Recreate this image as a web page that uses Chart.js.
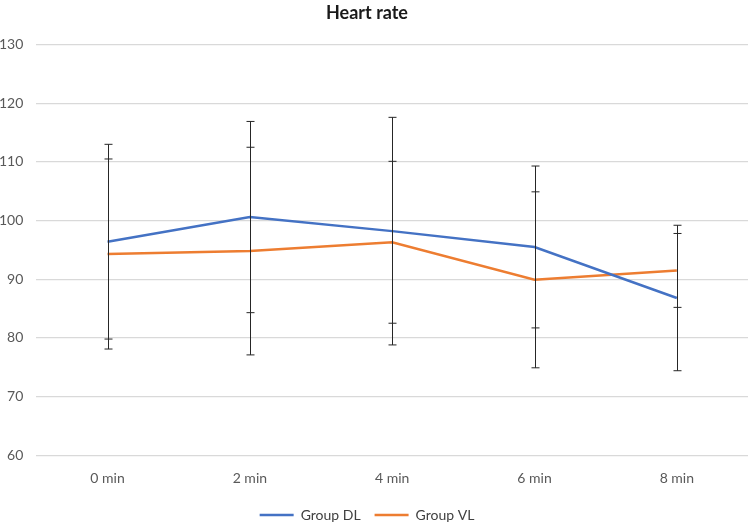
<!DOCTYPE html>
<html>
<head>
<meta charset="utf-8">
<script src="https://cdn.jsdelivr.net/npm/chart.js@4"></script>
<style>
  html, body { margin: 0; padding: 0; background: #fff; }
  #wrap { width: 748px; height: 522px; }
</style>
</head>
<body>
<div id="wrap"><canvas id="chart"></canvas></div>
<script>
const categories = ['0 min', '2 min', '4 min', '6 min', '8 min'];
const dlMean = [96.4, 100.6, 98.2, 95.5, 86.8];
const dlSD = [16.6, 16.3, 19.4, 13.8, 12.4];
const vlMean = [94.3, 94.8, 96.3, 89.9, 91.5];
const vlSD = [16.2, 17.7, 13.8, 15.0, 6.3];
const yTicks = [60, 70, 80, 90, 100, 110, 120, 130];

// draws the +/- SD whiskers for each series
const errorBars = {
  id: 'errorBars',
  afterDatasetsDraw(chart) {
    const ctx = chart.ctx;
    const y = chart.scales.y;
    ctx.save();
    ctx.strokeStyle = '#262626';
    ctx.lineWidth = 1;
    chart.data.datasets.forEach((ds, i) => {
      const meta = chart.getDatasetMeta(i);
      meta.data.forEach((pt, j) => {
        const top = y.getPixelForValue(ds.data[j] + ds.sd[j]);
        const bot = y.getPixelForValue(ds.data[j] - ds.sd[j]);
        const x = Math.round(pt.x) + 0.5;
        ctx.beginPath();
        ctx.moveTo(x, top);
        ctx.lineTo(x, bot);
        ctx.moveTo(x - 4, top);
        ctx.lineTo(x + 4, top);
        ctx.moveTo(x - 4, bot);
        ctx.lineTo(x + 4, bot);
        ctx.stroke();
      });
    });
    ctx.restore();
  }
};

new Chart(document.getElementById('chart'), {
  type: 'line',
  data: {
    labels: categories,
    datasets: [
      { label: 'Group DL', data: dlMean, sd: dlSD, borderColor: '#4472C4', backgroundColor: '#4472C4', borderWidth: 2.5, pointRadius: 0, tension: 0 },
      { label: 'Group VL', data: vlMean, sd: vlSD, borderColor: '#ED7D31', backgroundColor: '#ED7D31', borderWidth: 2.5, pointRadius: 0, tension: 0 }
    ]
  },
  options: {
    responsive: true,
    maintainAspectRatio: false,
    animation: false,
    layout: { padding: { left: -14, right: 0, top: 0, bottom: -10 } },
    plugins: {
      title: {
        display: true,
        text: 'Heart rate',
        color: '#1a1a1a',
        font: { family: 'Lato', size: 18, weight: 'bold' },
        padding: { top: 2, bottom: 21 }
      },
      legend: {
        position: 'bottom',
        labels: {
          usePointStyle: true,
          pointStyle: 'line',
          pointStyleWidth: 34,
          color: '#404040',
          font: { family: 'Lato', size: 14 },
          padding: 14
        }
      },
      tooltip: { enabled: false }
    },
    scales: {
      x: {
        offset: true,
        grid: { display: false },
        border: { display: false },
        ticks: { color: '#595959', font: { family: 'Lato', size: 14 }, padding: 7 }
      },
      y: {
        min: 60,
        max: 130,
        afterBuildTicks(axis) { axis.ticks = yTicks.map(v => ({ value: v })); },
        grid: { color: '#d9d9d9', lineWidth: 1.3, drawTicks: false },
        border: { display: false },
        ticks: { color: '#595959', font: { family: 'Lato', size: 14 }, padding: 13 }
      }
    }
  },
  plugins: [errorBars]
});
</script>
</body>
</html>
